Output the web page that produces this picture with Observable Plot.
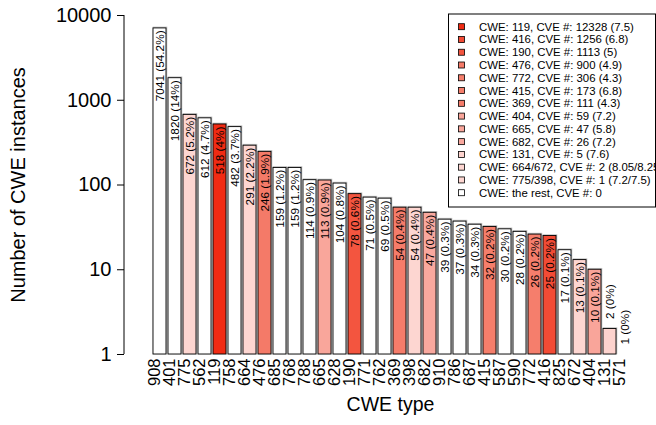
<!DOCTYPE html>
<html>
<head>
<meta charset="utf-8">
<script src="https://cdn.jsdelivr.net/npm/d3@7"></script>
<script src="https://cdn.jsdelivr.net/npm/@observablehq/plot@0.6"></script>
<style>
  html, body { margin: 0; padding: 0; background: white; }
</style>
</head>
<body>
<div id="chart"></div>
<script>
// ---- data ----
const cwe = ["908","401","775","562","119","758","664","476","685","768","788","665","628","190","771","762",
             "369","398","682","910","786","687","415","587","590","772","416","825","672","404","131","571"];
const counts = [7041,1820,672,612,518,482,291,246,159,159,114,113,104,78,71,69,
                54,54,47,39,37,34,32,30,28,26,25,17,13,10,2,1];
const pct = ["54.2","14","5.2","4.7","4","3.7","2.2","1.9","1.2","1.2","0.9","0.9","0.8","0.6","0.5","0.5",
             "0.4","0.4","0.4","0.3","0.3","0.3","0.2","0.2","0.2","0.2","0.2","0.1","0.1","0.1","0","0"];

// colour per CWE (by CVE count)
const colorCwe = ["119","416","190","476","772","415","369","404","665","682","131","664","672","775","398"];
const colorVal = ["#f12b13","#f24b35","#f3553f","#f47a68","#f57e6c","#f57e6b","#f57c6a",
                  "#f9a59a","#f9a69b","#f9a89e","#fdd3ce","#fdd6d1","#fdd6d1","#fdd6d1","#fdd6d1"];

// legend
const legendText = ["CWE: 119, CVE #: 12328 (7.5)","CWE: 416, CVE #: 1256 (6.8)","CWE: 190, CVE #: 1113 (5)",
  "CWE: 476, CVE #: 900 (4.9)","CWE: 772, CVE #: 306 (4.3)","CWE: 415, CVE #: 173 (6.8)",
  "CWE: 369, CVE #: 111 (4.3)","CWE: 404, CVE #: 59 (7.2)","CWE: 665, CVE #: 47 (5.8)",
  "CWE: 682, CVE #: 26 (7.2)","CWE: 131, CVE #: 5 (7.6)","CWE: 664/672, CVE #: 2 (8.05/8.25)",
  "CWE: 775/398, CVE #: 1 (7.2/7.5)","CWE: the rest, CVE #: 0"];
const legendColor = ["#f12b13","#f24b35","#f3553f","#f47a68","#f57e6c","#f57e6b","#f57c6a",
                     "#f9a59a","#f9a69b","#f9a89e","#fdd3ce","#fdd6d1","#fdd6d1","#ffffff"];

const yTicks = [1,10,100,1000,10000];

// ---- build ----
const colorMap = new Map(colorCwe.map((c,i)=>[c,colorVal[i]]));
const data = cwe.map((c,i)=>({cwe:c, count:counts[i], label:`${counts[i]} (${pct[i]}%)`,
                             fill: colorMap.get(c) || "#ffffff"}));
const font = "'Liberation Sans', Arial, Helvetica, sans-serif";

const plot = Plot.plot({
  width: 656, height: 425,
  marginTop: 15, marginBottom: 71, marginLeft: 124, marginRight: 0,
  style: {fontFamily: font, fontSize: "11.5px", background: "white", color: "black"},
  x: {domain: cwe, range: [144, 640.5], paddingInner: 0.147, paddingOuter: 0, axis: null},
  y: {type: "log", domain: [1, 10000], axis: null},
  marks: [
    Plot.axisY({ticks: yTicks, tickFormat: d => String(d), tickSize: 7, tickPadding: 6,
                fontSize: 20, label: null, stroke: "black"}),
    Plot.barY(data, {x: "cwe", y1: 1, y2: "count", fill: "none", stroke: "#c4c4c4", strokeWidth: 1.6,
                dx: 0.5, dy: -0.5}),
    Plot.barY(data, {x: "cwe", y1: 1, y2: "count", fill: d => d.fill, stroke: "black", strokeWidth: 0.9}),
    Plot.text(data.filter(d => d.count >= 5), {x: "cwe", y: "count", text: "label", rotate: -90,
                textAnchor: "end", dy: 2, fontSize: 11.8, fill: "black"}),
    Plot.text(data.filter(d => d.count < 5), {x: "cwe", y: "count", text: "label", rotate: -90,
                textAnchor: "start", dy: -10, fontSize: 11.8, fill: "black"}),
    Plot.text(data, {x: "cwe", frameAnchor: "bottom", text: "cwe", rotate: -90, textAnchor: "end",
                dy: 4, fontSize: 16.5, fill: "black"}),
    Plot.text(["CWE type"], {frameAnchor: "bottom", text: d => d, dy: 56, fontSize: 19.5, fill: "black"}),
    Plot.text(["Number of CWE instances"], {frameAnchor: "left", text: d => d, rotate: -90,
                textAnchor: "middle", dx: -106, fontSize: 20, fill: "black"})
  ]
});

// y axis line via the plot's y scale
const ys = plot.scale("y");
const svg = d3.select(plot);
svg.append("line")
  .attr("x1", 124).attr("x2", 124)
  .attr("y1", ys.apply(yTicks[0])).attr("y2", ys.apply(yTicks[yTicks.length-1]))
  .attr("stroke", "black").attr("stroke-width", 1);

// legend box
const lg = svg.append("g").attr("font-family", font).attr("font-size", "11.4px")
  .attr("text-anchor", "start");
const rowH = 12.77, top0 = 26.7;
lg.append("rect").attr("x", 448.5).attr("y", 14).attr("width", 207).attr("height", 193)
  .attr("fill", "white").attr("stroke", "black").attr("stroke-width", 1);
legendText.forEach((t, i) => {
  const cy = top0 + i * rowH;
  lg.append("rect").attr("x", 458.5).attr("y", cy - 3).attr("width", 6).attr("height", 6)
    .attr("fill", legendColor[i]).attr("stroke", "black").attr("stroke-width", 0.8);
  lg.append("text").attr("x", 479).attr("y", cy).attr("dy", "0.35em").attr("fill", "black")
    .attr("text-anchor", "start").text(t);
});

document.getElementById("chart").appendChild(plot);
</script>
</body>
</html>
